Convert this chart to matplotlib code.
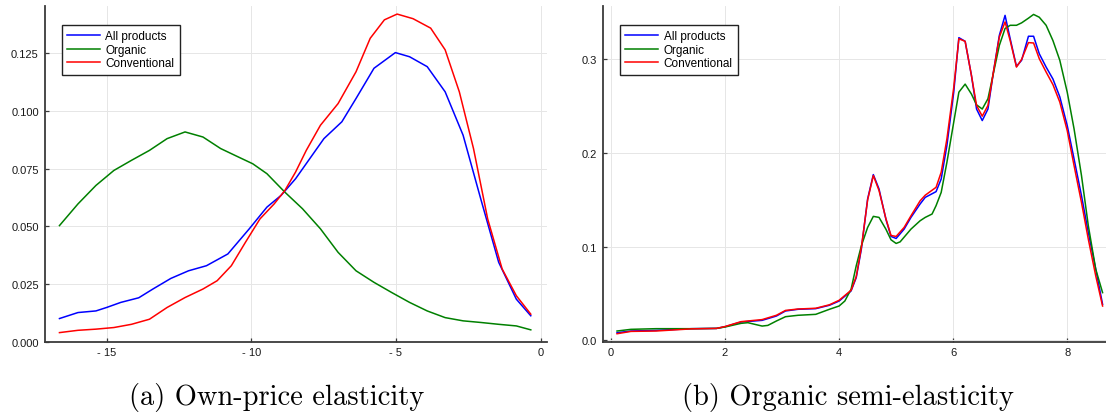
import matplotlib
matplotlib.use("Agg")
import matplotlib.pyplot as plt

# ---------------- data ----------------
series_names = ["All products", "Organic", "Conventional"]
series_colors = ["#0000ff", "#008000", "#ff0000"]

# (a) Own-price elasticity
own_all_x = [-16.63, -15.99, -15.37, -15.0, -14.51, -13.89, -13.40, -12.78, -12.17, -11.55,
             -10.81, -10.07, -9.46, -8.97, -8.47, -7.98, -7.49, -6.87, -6.38, -5.76,
             -5.02, -4.53, -3.92, -3.30, -2.68, -2.07, -1.45, -0.84, -0.34]
own_all_y = [0.0100, 0.0126, 0.0133, 0.0148, 0.0170, 0.0190, 0.0228, 0.0274, 0.0307, 0.0329,
             0.0380, 0.0489, 0.0583, 0.0634, 0.0706, 0.0793, 0.0880, 0.0953, 0.1054, 0.1185,
             0.1253, 0.1235, 0.1192, 0.1083, 0.0895, 0.0619, 0.0344, 0.0184, 0.0112]

own_org_x = [-16.63, -15.99, -15.37, -14.75, -14.14, -13.52, -12.91, -12.29, -11.67, -11.06,
             -10.44, -9.95, -9.46, -8.84, -8.23, -7.61, -7.00, -6.38, -5.76, -5.15,
             -4.53, -3.92, -3.30, -2.68, -2.07, -1.45, -0.84, -0.34]
own_org_y = [0.0503, 0.0597, 0.0677, 0.0742, 0.0786, 0.0829, 0.0880, 0.0909, 0.0887, 0.0837,
             0.0800, 0.0771, 0.0728, 0.0648, 0.0576, 0.0489, 0.0387, 0.0307, 0.0257, 0.0213,
             0.0170, 0.0133, 0.0104, 0.0090, 0.0083, 0.0075, 0.0068, 0.0051]

own_conv_x = [-16.63, -15.99, -15.37, -14.75, -14.14, -13.52, -12.91, -12.29, -11.67, -11.18,
              -10.69, -10.20, -9.70, -9.21, -8.84, -8.47, -8.10, -7.61, -7.00, -6.38,
              -5.89, -5.40, -4.96, -4.41, -3.80, -3.30, -2.81, -2.32, -1.83, -1.33,
              -0.84, -0.34]
own_conv_y = [0.0039, 0.0049, 0.0054, 0.0061, 0.0075, 0.0097, 0.0148, 0.0191, 0.0228, 0.0264,
              0.0329, 0.0431, 0.0532, 0.0597, 0.0655, 0.0735, 0.0829, 0.0938, 0.1032, 0.1170,
              0.1315, 0.1395, 0.1420, 0.1400, 0.1359, 0.1265, 0.1083, 0.0837, 0.0532, 0.0315,
              0.0199, 0.0119]

# (b) Organic semi-elasticity
semi_x = [0.106, 0.35, 0.79, 1.41, 1.85, 2.0, 2.28, 2.65, 2.9, 3.06,
          3.28, 3.59, 3.83, 4.0, 4.21, 4.30, 4.39, 4.5, 4.6, 4.70,
          4.82, 4.91, 5.0, 5.14, 5.26, 5.42, 5.51, 5.70, 5.79, 5.89,
          6.01, 6.10, 6.21, 6.32, 6.41, 6.51, 6.61, 6.71, 6.81, 6.91,
          7.0, 7.11, 7.20, 7.32, 7.41, 7.51, 7.63, 7.75, 7.87, 8.0,
          8.12, 8.25, 8.37, 8.50, 8.62]
semi_all_y = [0.0082, 0.0100, 0.0107, 0.0125, 0.0128, 0.0146, 0.0196, 0.0214, 0.0260, 0.0314,
              0.0332, 0.0339, 0.0375, 0.0420, 0.0528, 0.0670, 0.0974, 0.151, 0.177, 0.1616,
              0.1295, 0.111, 0.1088, 0.1188, 0.1313, 0.1456, 0.1527, 0.1588, 0.1723, 0.208,
              0.265, 0.3232, 0.3193, 0.283, 0.247, 0.2347, 0.247, 0.288, 0.3257, 0.347,
              0.322, 0.2925, 0.299, 0.3247, 0.3247, 0.306, 0.2918, 0.279, 0.260, 0.2294,
              0.1937, 0.1545, 0.1152, 0.076, 0.0385]
semi_conv_y = [0.0071, 0.0096, 0.0100, 0.0123, 0.0128, 0.0148, 0.0200, 0.0222, 0.0268, 0.0320,
               0.0335, 0.0343, 0.0380, 0.0428, 0.0535, 0.0680, 0.0990, 0.150, 0.176, 0.160,
               0.130, 0.112, 0.111, 0.1206, 0.1330, 0.149, 0.155, 0.1634, 0.1795, 0.215,
               0.270, 0.322, 0.3193, 0.283, 0.2508, 0.2394, 0.2508, 0.288, 0.324, 0.340,
               0.320, 0.2918, 0.300, 0.3179, 0.3175, 0.3007, 0.2865, 0.273, 0.2544, 0.224,
               0.1866, 0.1473, 0.108, 0.0689, 0.0367]
semi_org_x = [0.106, 0.35, 0.79, 1.41, 1.85, 2.0, 2.28, 2.4, 2.65, 2.75,
              2.9, 3.06, 3.28, 3.59, 3.83, 4.0, 4.1, 4.21, 4.30, 4.39,
              4.5, 4.6, 4.70, 4.82, 4.91, 5.0, 5.07, 5.26, 5.42, 5.51,
              5.63, 5.70, 5.79, 5.89, 6.01, 6.10, 6.21, 6.32, 6.41, 6.51,
              6.61, 6.71, 6.81, 6.91, 7.0, 7.11, 7.20, 7.32, 7.41, 7.51,
              7.63, 7.75, 7.87, 8.0, 8.12, 8.25, 8.37, 8.50, 8.62]
semi_org_y = [0.010, 0.0118, 0.0125, 0.0125, 0.0128, 0.0143, 0.0182, 0.0189, 0.0153, 0.016,
              0.0207, 0.0253, 0.0268, 0.0278, 0.0332, 0.0367, 0.042, 0.0546, 0.0796, 0.101,
              0.1206, 0.1324, 0.1313, 0.1188, 0.1074, 0.1035, 0.1052, 0.1188, 0.1277, 0.1313,
              0.1349, 0.1438, 0.158, 0.190, 0.233, 0.265, 0.2736, 0.263, 0.2515, 0.247,
              0.258, 0.2865, 0.315, 0.333, 0.3364, 0.3364, 0.339, 0.344, 0.348, 0.345,
              0.3364, 0.320, 0.299, 0.265, 0.2258, 0.176, 0.1224, 0.076, 0.051]

own_xticks = [-15, -10, -5, 0]
own_xticklabels = ["- 15", "- 10", "- 5", "0"]
own_yticks = [0.000, 0.025, 0.050, 0.075, 0.100, 0.125]
own_yticklabels = ["0.000", "0.025", "0.050", "0.075", "0.100", "0.125"]
semi_xticks = [0, 2, 4, 6, 8]
semi_xticklabels = ["0", "2", "4", "6", "8"]
semi_yticks = [0.0, 0.1, 0.2, 0.3]
semi_yticklabels = ["0.0", "0.1", "0.2", "0.3"]
captions = ["(a) Own-price elasticity", "(b) Organic semi-elasticity"]

# ---------------- figure ----------------
W, H = 1106, 414
fig = plt.figure(figsize=(W / 100, H / 100), dpi=100)


def px_axes(x0, y0, x1, y1):
    return fig.add_axes([x0 / W, 1 - y1 / H, (x1 - x0) / W, (y1 - y0) / H])


tick_font = dict(family="Liberation Sans", size=8)


def style(ax, xticks, xlabels, yticks, ylabels):
    for s in ["top", "right"]:
        ax.spines[s].set_visible(False)
    for s in ["left", "bottom"]:
        ax.spines[s].set_color("#3a3a3a")
        ax.spines[s].set_linewidth(1.3)
    ax.set_xticks(xticks)
    ax.set_xticklabels(xlabels, fontdict=tick_font, color="#1a1a1a")
    ax.set_yticks(yticks)
    ax.set_yticklabels(ylabels, fontdict=tick_font, color="#1a1a1a")
    ax.tick_params(direction="in", length=3, width=0.9, color="#3a3a3a")
    ax.tick_params(axis="y", pad=4.5)
    ax.tick_params(axis="x", pad=3.5)
    ax.grid(True, color="#e6e6e6", linewidth=0.7)
    ax.set_axisbelow(True)


def add_legend(ax):
    leg = ax.legend(loc="upper left", bbox_to_anchor=(0.033, 0.943), borderaxespad=0,
                    prop=dict(family="Liberation Sans", size=8.5), frameon=True,
                    fancybox=False, framealpha=1, edgecolor="#222222",
                    handlelength=2.8, handletextpad=0.45, labelspacing=0.12,
                    borderpad=0.45)
    leg.get_frame().set_linewidth(1.0)


lw = 1.1

ax1 = px_axes(45, 7, 546.7, 343.3)
ax1.plot(own_all_x, own_all_y, color=series_colors[0], lw=lw, label=series_names[0])
ax1.plot(own_org_x, own_org_y, color=series_colors[1], lw=lw, label=series_names[1])
ax1.plot(own_conv_x, own_conv_y, color=series_colors[2], lw=lw, label=series_names[2])
ax1.set_xlim(-17.13, 0.21)
ax1.set_ylim(-0.0003, 0.1455)
style(ax1, own_xticks, own_xticklabels, own_yticks, own_yticklabels)
add_legend(ax1)

ax2 = px_axes(603.3, 7, 1106, 342.7)
ax2.plot(semi_x, semi_all_y, color=series_colors[0], lw=lw, label=series_names[0])
ax2.plot(semi_org_x, semi_org_y, color=series_colors[1], lw=lw, label=series_names[1])
ax2.plot(semi_x, semi_conv_y, color=series_colors[2], lw=lw, label=series_names[2])
ax2.set_xlim(-0.135, 8.68)
ax2.set_ylim(-0.0014, 0.357)
style(ax2, semi_xticks, semi_xticklabels, semi_yticks, semi_yticklabels)
add_legend(ax2)

cap_font = dict(family="cmr10", size=20.5)
fig.text(277 / W, 1 - 398 / H, captions[0], ha="center", va="center", **cap_font)
fig.text(848 / W, 1 - 398 / H, captions[1], ha="center", va="center", **cap_font)

fig.savefig("out.png", dpi=100)
